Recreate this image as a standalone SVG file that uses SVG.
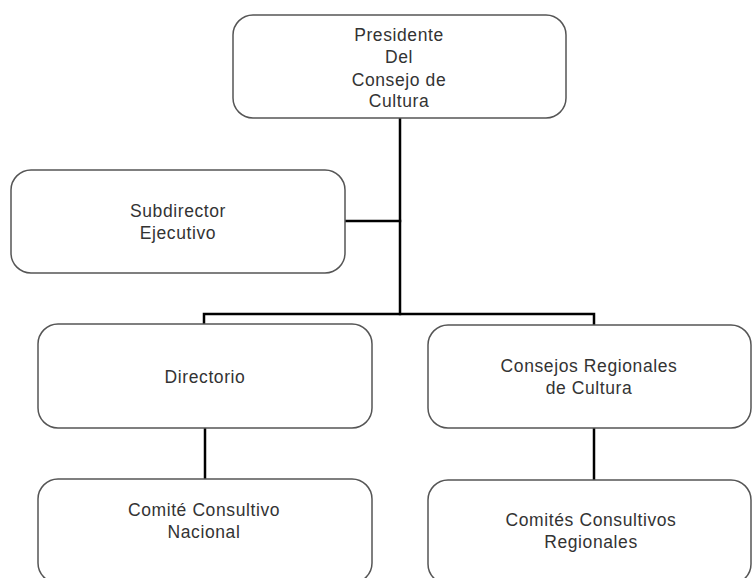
<svg xmlns="http://www.w3.org/2000/svg" width="752" height="578" viewBox="0 0 752 578">
  <style>
    .box { fill: #ffffff; stroke: #555555; stroke-width: 1.5; }
    .lbl { font-family: "Liberation Sans", Arial, sans-serif; font-size: 17.5px; letter-spacing: 0.6px; fill: #333333; text-anchor: middle; }
    .wire { fill: none; stroke: #000000; stroke-width: 2.5; stroke-linecap: square; }
  </style>
  <rect width="752" height="578" fill="#ffffff"/>

  <!-- connectors -->
  <g id="connectors">
    <path class="wire" d="M400 118 V314"/>
    <path class="wire" d="M345 221 H400"/>
    <path class="wire" d="M204 324 V314 H594 V325"/>
    <path class="wire" d="M205 428 V479"/>
    <path class="wire" d="M594 428 V480"/>
  </g>

  <g id="presidente">
    <rect class="box" x="233" y="15" width="333" height="103" rx="20" ry="20"/>
    <text class="lbl" x="399" y="41">Presidente</text>
    <text class="lbl" x="399" y="63">Del</text>
    <text class="lbl" x="399" y="86">Consejo de</text>
    <text class="lbl" x="399" y="107">Cultura</text>
  </g>

  <g id="subdirector">
    <rect class="box" x="11" y="170" width="334" height="103" rx="20" ry="20"/>
    <text class="lbl" x="178" y="217">Subdirector</text>
    <text class="lbl" x="178" y="239">Ejecutivo</text>
  </g>

  <g id="directorio">
    <rect class="box" x="38" y="324" width="334" height="104" rx="20" ry="20"/>
    <text class="lbl" x="205" y="383">Directorio</text>
  </g>

  <g id="consejos-regionales">
    <rect class="box" x="428" y="325" width="323" height="103" rx="20" ry="20"/>
    <text class="lbl" x="589" y="372">Consejos Regionales</text>
    <text class="lbl" x="589" y="394">de Cultura</text>
  </g>

  <g id="comite-nacional">
    <rect class="box" x="38" y="479" width="334" height="104" rx="20" ry="20"/>
    <text class="lbl" x="204" y="516">Comité Consultivo</text>
    <text class="lbl" x="204" y="538">Nacional</text>
  </g>

  <g id="comites-regionales">
    <rect class="box" x="428" y="480" width="323" height="104" rx="20" ry="20"/>
    <text class="lbl" x="591" y="526">Comités Consultivos</text>
    <text class="lbl" x="591" y="548">Regionales</text>
  </g>
</svg>
